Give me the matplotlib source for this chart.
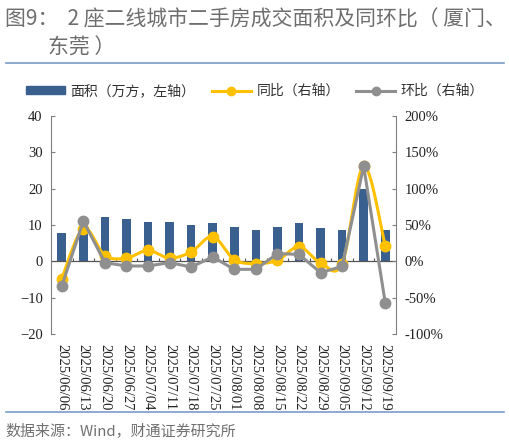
import numpy as np
import matplotlib
matplotlib.use('Agg')
import matplotlib.pyplot as plt
from matplotlib.lines import Line2D
from matplotlib.patches import Patch

plt.rcParams['font.family'] = ['Noto Sans CJK SC', 'DejaVu Sans']

dates = ['2025/06/06', '2025/06/13', '2025/06/20', '2025/06/27', '2025/07/04',
         '2025/07/11', '2025/07/18', '2025/07/25', '2025/08/01', '2025/08/08',
         '2025/08/15', '2025/08/22', '2025/08/29', '2025/09/05', '2025/09/12',
         '2025/09/19']
area = [7.7, 9.0, 12.1, 11.6, 10.7, 10.7, 9.9, 10.6, 9.5, 8.6,
        9.5, 10.6, 9.1, 8.5, 20.0, 8.5]
yoy = [-24, 45, 8, 4.5, 15, 4.5, 13, 34, 2.3, -3,
       1.4, 20, -2, -3, 131, 20.6]
mom = [-34, 55.5, -1.8, -6.4, -6.4, -1.8, -7.8, 6, -11, -11,
       10.6, 9.6, -15.6, -7, 131, -57]

bar_color = '#3A6090'
yoy_color = '#FFC000'
mom_color = '#8F8F8F'
serif = 'Liberation Serif'


def smooth(xs, ys, n=20):
    # catmull-rom style curve through the points, like excel smoothed lines
    xs = np.asarray(xs, float)
    ys = np.asarray(ys, float)
    px = np.concatenate([[xs[0]], xs, [xs[-1]]])
    py = np.concatenate([[ys[0]], ys, [ys[-1]]])
    outx, outy = [], []
    for i in range(1, len(px) - 2):
        t = np.linspace(0, 1, n)
        for p, out in ((px, outx), (py, outy)):
            p0, p1, p2, p3 = p[i - 1], p[i], p[i + 1], p[i + 2]
            c1 = p1 + (p2 - p0) / 6
            c2 = p2 - (p3 - p1) / 6
            out.extend((1 - t) ** 3 * p1 + 3 * (1 - t) ** 2 * t * c1
                       + 3 * (1 - t) * t ** 2 * c2 + t ** 3 * p2)
    return outx, outy


fig = plt.figure(figsize=(5.10, 4.43), dpi=100)
ax = fig.add_axes([51 / 510, 1 - 334 / 443, 345 / 510, 218 / 443])
ax2 = ax.twinx()

x = np.arange(len(dates))
ax.bar(x, area, width=0.4, color=bar_color, zorder=2)
ax.set_xlim(-0.5, len(dates) - 0.5)
ax.set_ylim(-20, 40)
ax.set_yticks(range(-20, 41, 10))
ax2.set_ylim(-100, 200)
ax2.set_yticks(range(-100, 201, 50))
ax2.set_yticklabels([f'{v}%' for v in range(-100, 201, 50)])

sx, sy = smooth(x, yoy)
ax2.plot(sx, sy, color=yoy_color, lw=2.2, zorder=3)
ax2.plot(x, yoy, 'o', color=yoy_color, ms=7.5, zorder=3)
ax2.plot(x, mom, '-o', color=mom_color, lw=2.2, ms=7.5, zorder=4)

# zero line with small category ticks
ax.axhline(0, color='#555555', lw=0.9, zorder=2)
ax.vlines(np.arange(0.5, len(dates) - 1, 1), 0, 0.9, color='#555555', lw=0.8, zorder=2)

for a in (ax, ax2):
    for s in ('top', 'bottom'):
        a.spines[s].set_visible(False)
ax2.spines['left'].set_visible(False)
ax.spines['right'].set_visible(False)
ax.spines['left'].set_color('#7F7F7F')
ax2.spines['right'].set_color('#7F7F7F')
ax.tick_params(axis='y', direction='in', length=3, color='#7F7F7F', pad=6,
               labelsize=10.5, labelcolor='#222222', labelfontfamily=serif)
ax2.tick_params(axis='y', direction='in', length=3, color='#7F7F7F', pad=6,
                labelsize=10.5, labelcolor='#222222', labelfontfamily=serif)
ax.set_xticks(x)
ax.set_xticklabels(dates, rotation=270)
ax.tick_params(axis='x', length=0, pad=7, labelsize=10.5, labelcolor='#222222',
               labelfontfamily=serif)

# title, rules and source
fig.text(5 / 510, 1 - 20 / 443, '图9：  2 座二线城市二手房成交面积及同环比（ 厦门、',
         fontsize=15, color='#6E6E6E', fontweight='medium', va='center')
fig.text(48 / 510, 1 - 48 / 443, '东莞 ）', fontsize=15, color='#6E6E6E',
         fontweight='medium', va='center')
fig.add_artist(Line2D([6 / 510, 504 / 510], [1 - 63 / 443] * 2, color='#7A9CC8', lw=1.2))
fig.add_artist(Line2D([6 / 510, 504 / 510], [1 - 412 / 443] * 2, color='#7A9CC8', lw=1.2))
fig.text(5 / 510, 1 - 431 / 443, '数据来源：Wind，财通证券研究所', fontsize=10.8,
         color='#707070', va='center')

handles = [Patch(color=bar_color),
           Line2D([], [], color=yoy_color, lw=2.2, marker='o', ms=6),
           Line2D([], [], color=mom_color, lw=2.2, marker='o', ms=6)]
labels = ['面积（万方，左轴）', '同比（右轴）', '环比（右轴）']
fig.legend(handles, labels, loc='center', bbox_to_anchor=(0.5, 1 - 91 / 443),
           ncol=3, frameon=False, fontsize=10, handlelength=2.8, handleheight=0.5,
           columnspacing=1.2, handletextpad=0.4, labelcolor='#333333')

fig.savefig('out.png', dpi=100)
